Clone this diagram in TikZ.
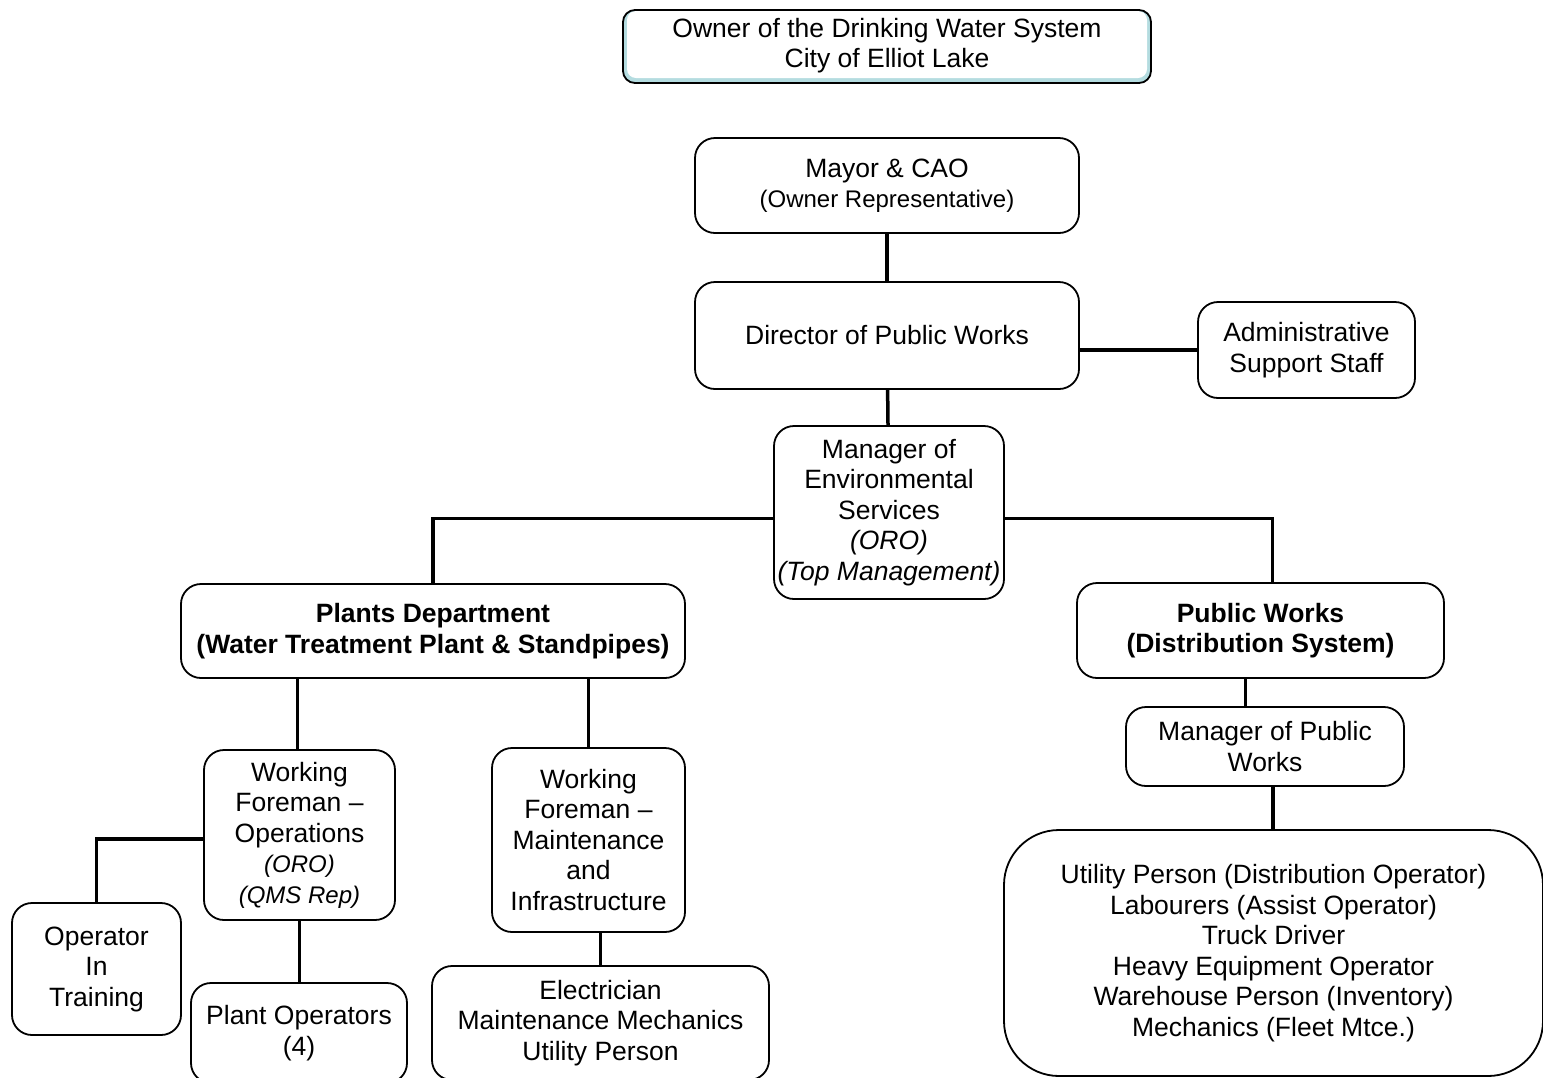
\documentclass[tikz,border=0pt]{standalone}
\usepackage{fontspec}
\setmainfont{Liberation Sans}
\usepackage{tikz}
\usetikzlibrary{shapes,positioning}

\definecolor{bevelblue}{RGB}{180,220,224}
\newcommand{\smalltxt}{\fontsize{24}{28}\selectfont}

\begin{document}
\begin{tikzpicture}[x=1pt, y=-1pt]
    % Define styles
    \tikzstyle{box} = [rectangle, rounded corners=20pt, draw=black, line width=1.8pt, fill=white, inner sep=0pt, align=center, font=\fontsize{26.5}{30.5}\selectfont]
    \tikzstyle{ownerbox} = [box, rounded corners=12pt, fill=bevelblue, path picture={\fill[white, rounded corners=9pt] ([xshift=4pt,yshift=-1pt]path picture bounding box.north west) rectangle ([xshift=-4pt,yshift=5pt]path picture bounding box.south east);}]
    \tikzstyle{link} = [line width=3.5pt]

    \useasboundingbox (0,0) rectangle (1543,1077);
    \clip (0,0) rectangle (1543,1077);

    % Nodes
    \node[ownerbox, minimum width=528pt, minimum height=73pt] (owner) at (887,46.5) {\raisebox{-3pt}{\begin{tabular}{@{}c@{}}Owner of the Drinking Water System\\[-1pt]City of Elliot Lake\end{tabular}}};
    \node[box, minimum width=384pt, minimum height=95pt] (mayor) at (887,185.5) {Mayor \& CAO\\{\smalltxt (Owner Representative)}};
    \node[box, minimum width=384pt, minimum height=107pt] (director) at (887,335.5) {Director of Public Works};
    \node[box, minimum width=217pt, minimum height=96pt] (admin) at (1306.5,350) {Administrative\\Support Staff};
    \node[box, minimum width=230pt, minimum height=173pt] (envmgr) at (889,512.5) {Manager of\\Environmental\\Services\\\textit{(ORO)}\\\textit{(Top Management)}};
    \node[box, minimum width=504pt, minimum height=94pt, font=\fontsize{26.5}{30.5}\selectfont\bfseries] (plants) at (433,631) {Plants Department\\(Water Treatment Plant \& Standpipes)};
    \node[box, minimum width=367pt, minimum height=95pt, font=\fontsize{26.5}{30.5}\selectfont\bfseries] (pubworks) at (1260.5,630.5) {Public Works\\(Distribution System)};
    \node[box, minimum width=191pt, minimum height=170pt] (wfops) at (299.5,835) {Working\\Foreman --\\Operations\\{\smalltxt\itshape (ORO)}\\{\smalltxt\itshape (QMS Rep)}};
    \node[box, minimum width=193pt, minimum height=184pt] (wfmaint) at (588.5,840) {Working\\Foreman --\\Maintenance\\and\\Infrastructure};
    \node[box, minimum width=169pt, minimum height=132pt] (trainee) at (96.5,969) {Operator\\In\\Training};
    \node[box, minimum width=216pt, minimum height=100pt] (plantops) at (299,1033) {Plant Operators\\(4)};
    \node[box, minimum width=337pt, minimum height=114pt] (elec) at (600.5,1023) {Electrician\\Maintenance Mechanics\\Utility Person};
    \node[box, minimum width=278pt, minimum height=79pt] (pwmgr) at (1265,746.5) {Manager of Public\\Works};
    \node[box, rounded corners=55pt, minimum width=539pt, minimum height=246pt] (crew) at (1273.5,953) {Utility Person (Distribution Operator)\\Labourers (Assist Operator)\\Truck Driver\\Heavy Equipment Operator\\Warehouse Person (Inventory)\\Mechanics (Fleet Mtce.)};

    % Connections
    \draw[link] (mayor) -- (director);
    \draw[link] (director) -- (envmgr);
    \draw[link] (admin.west) -- (admin.west -| director.east);
    \draw[link] ([yshift=-6pt]envmgr.west) -| (plants.north);
    \draw[link] ([yshift=-6pt]envmgr.east) -| ([xshift=12pt]pubworks.north);
    \draw[link] ([xshift=-2pt]wfops.north |- plants.south) -- ([xshift=-2pt]wfops.north);
    \draw[link] (wfmaint.north |- plants.south) -- (wfmaint.north);
    \draw[link] ([yshift=-4pt]wfops.west) -| (trainee.north);
    \draw[link] (wfops.south) -- (wfops.south |- plantops.north);
    \draw[link] (elec.north) -- (elec.north |- wfmaint.south);
    \draw[link] ([xshift=-15pt]pubworks.south) -- ([xshift=-15pt]pubworks.south |- pwmgr.north);
    \draw[link] ([xshift=8pt]pwmgr.south) -- ([xshift=8pt]pwmgr.south |- crew.north);
\end{tikzpicture}
\end{document}
